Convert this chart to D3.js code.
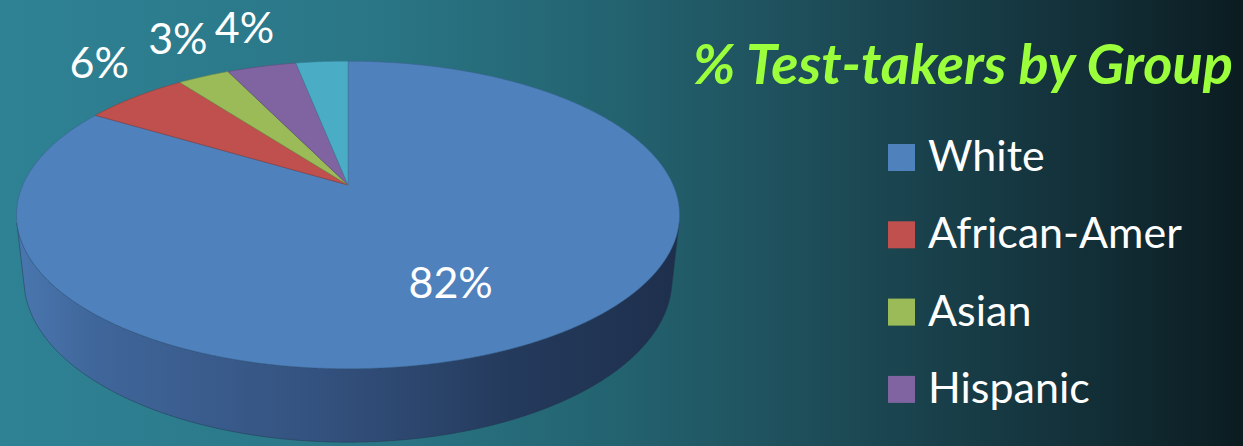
<!DOCTYPE html>
<html>
<head>
<meta charset="utf-8">
<script src="https://cdn.jsdelivr.net/npm/d3@7"></script>
<style>
  html, body { margin: 0; padding: 0; background: #1b4a56; }
  svg { display: block; }
</style>
</head>
<body>
<svg id="chart" width="1243" height="446"></svg>
<script>
// ---- data ----
const categories = ["White", "African-Amer", "Asian", "Hispanic", "Other"];
const values = [82, 6, 3, 4, 3];
const labels = ["82%", "6%", "3%", "4%", ""];
const legendItems = ["White", "African-Amer", "Asian", "Hispanic"];
const colors = ["#4F81BD", "#C0504D", "#9BBB59", "#8064A2", "#4BACC6"];
const title = "% Test-takers by Group";

// ---- layout ----
const W = 1243, H = 446;
const svg = d3.select("#chart");
const defs = svg.append("defs");

const bg = defs.append("linearGradient").attr("id", "bg")
  .attr("x1", 0).attr("y1", 0).attr("x2", 1).attr("y2", 0);
[[0, "#2E8294"], [0.3, "#2A7686"], [0.5, "#23626F"], [0.68, "#1C4A55"], [0.85, "#14333C"], [1, "#0B1C20"]]
  .forEach(([o, c]) => bg.append("stop").attr("offset", o).attr("stop-color", c));
svg.append("rect").attr("width", W).attr("height", H).attr("fill", "url(#bg)");

// perspective projection of a tilted 3D disc
const cx = 348, cy = 185;
const F = 1486, Dist = 4.57, sinP = 0.455, cosP = Math.sqrt(1 - sinP * sinP), depthH = 0.224;
function project(a, r, z) {
  const wx = r * Math.sin(a), wy = r * Math.cos(a);
  const dep = Dist + wy * cosP - z * sinP;
  const up = wy * sinP + z * cosP;
  return [cx + F * wx / dep, cy - F * up / dep];
}

const pie = d3.pie().sort(null).value(d => d.v).startAngle(0).endAngle(2 * Math.PI);
const arcs = pie(categories.map((c, i) => ({ c, v: values[i], i })));
const line = d3.line();
const step = Math.PI / 720;
function arcPts(a0, a1, r, z) {
  const n = Math.max(2, Math.ceil((a1 - a0) / step));
  return d3.range(n + 1).map(k => project(a0 + (a1 - a0) * k / n, r, z));
}

// side wall (visible front part only)
const wallG = defs.append("linearGradient").attr("id", "wall")
  .attr("gradientUnits", "userSpaceOnUse").attr("x1", 16).attr("y1", 0).attr("x2", 680).attr("y2", 0);
[[0, "#4A77B0"], [0.12, "#3F669A"], [0.45, "#34527F"], [0.75, "#243A5C"], [1, "#1E2F4C"]]
  .forEach(([o, c]) => wallG.append("stop").attr("offset", o).attr("stop-color", c));

const visLo = Math.acos(-1 / (Dist * cosP)), visHi = 2 * Math.PI - visLo;
const gWall = svg.append("g");
arcs.forEach(d => {
  const a0 = Math.max(d.startAngle, visLo), a1 = Math.min(d.endAngle, visHi);
  if (a1 <= a0) return;
  const top = arcPts(a0, a1, 1, 0);
  const bot = arcPts(a0, a1, 1, -depthH).reverse();
  gWall.append("path")
    .attr("d", line(top.concat(bot)) + "Z")
    .attr("fill", d.index === 0 ? "url(#wall)" : d3.color(colors[d.index]).darker(1))
    .attr("stroke", "#22344f").attr("stroke-width", 0.8).attr("stroke-opacity", 0.6);
});

// top faces
const gTop = svg.append("g");
arcs.forEach(d => {
  const pts = [project(0, 0, 0)].concat(arcPts(d.startAngle, d.endAngle, 1, 0));
  gTop.append("path")
    .attr("d", line(pts) + "Z")
    .attr("fill", colors[d.index])
    .attr("stroke", d3.color(colors[d.index]).darker(0.8))
    .attr("stroke-width", 0.8).attr("stroke-opacity", 0.7)
    .attr("stroke-linejoin", "round");
});

// data labels
const gLab = svg.append("g").attr("font-family", "Lato, 'Open Sans', sans-serif")
  .attr("fill", "#ffffff").attr("font-size", 43);
arcs.forEach(d => {
  if (!labels[d.index]) return;
  const mid = (d.startAngle + d.endAngle) / 2;
  let x, y;
  if (d.index === 0) {
    [x, y] = project(mid, 0.58, 0);
    y += 30;
  } else {
    const p = project(mid, 1, 0);
    x = cx + (p[0] - cx) * 1.15 - 4;
    y = cy + (p[1] - cy) * 1.15 - 6;
  }
  gLab.append("text").attr("x", x).attr("y", y)
    .attr("text-anchor", "middle").text(labels[d.index]);
});

// title
svg.append("text")
  .attr("x", 1233).attr("y", 84)
  .attr("text-anchor", "end")
  .attr("font-family", "Lato, 'Open Sans', sans-serif")
  .attr("font-weight", "bold").attr("font-style", "italic")
  .attr("font-size", 56)
  .attr("fill", "#9BFF3C")
  .text(title);

// legend
const legY = d3.scalePoint().domain(legendItems).range([171, 171 + 77.3 * (legendItems.length - 1)]);
const gLeg = svg.append("g").attr("font-family", "Lato, 'Open Sans', sans-serif").attr("font-size", 43).attr("fill", "#ffffff");
legendItems.forEach(c => {
  const y = legY(c);
  gLeg.append("rect").attr("x", 888).attr("y", y - 27).attr("width", 27).attr("height", 27)
    .attr("fill", colors[categories.indexOf(c)]);
  gLeg.append("text").attr("x", 928).attr("y", y).text(c);
});
</script>
</body>
</html>
